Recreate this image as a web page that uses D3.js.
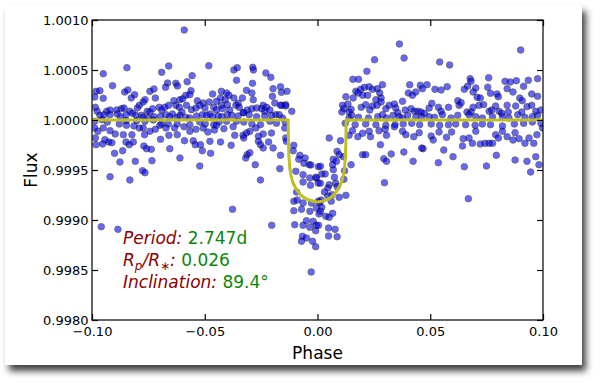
<!DOCTYPE html>
<html>
<head>
<meta charset="utf-8">
<script src="https://cdn.jsdelivr.net/npm/d3@7"></script>
<style>
  body { margin: 0; background: #fff; }
  svg { display: block; font-family: "DejaVu Sans", sans-serif; }
</style>
</head>
<body>
<div id="my_dataviz"></div>
<script>
// tick values
var xTicks = [-0.10, -0.05, 0.00, 0.05, 0.10];
var yTicks = [0.9980, 0.9985, 0.9990, 0.9995, 1.0000, 1.0005, 1.0010];

// transit model
var modelPhase = [-0.1000, -0.0130, -0.0129, -0.0127, -0.0123, -0.0118, -0.0110, -0.0095, -0.0075, -0.0050, -0.0025, 0.0000,
                  0.0025, 0.0050, 0.0072, 0.0092, 0.0107, 0.0115, 0.0120, 0.0124, 0.0126, 0.0127, 0.1000];
var modelFlux  = [1.00000, 1.00000, 0.99980, 0.99965, 0.99952, 0.99945, 0.99938, 0.99931, 0.99925, 0.99921, 0.99919, 0.99918,
                  0.99919, 0.99921, 0.99925, 0.99931, 0.99938, 0.99945, 0.99952, 0.99965, 0.99980, 1.00000, 1.00000];

// observed points: [phase x 1e-3, flux - 1 in ppm]
var obsPoints = [
[-59.1,900],[-95.0,463],[-84.5,523],[-69.1,477],[-66.0,540],[-48.2,543],[-37.1,500],[-35.6,523],[-28.7,527],[-28.4,500],[-22.9,470],[-20.7,427],[-35.9,397],[-28.8,367],[-55.6,443],[-57.8,383],
[-90.9,343],[-66.5,370],[-62.8,367],[-62.1,340],[-67.4,327],[-56.1,293],[-19.7,313],[-16.4,333],[-13.5,287],[-16.0,277],[-20.0,237],[-31.5,297],[-29.1,270],[-42.6,287],[-40.3,270],[-46.5,260],[-43.0,220],[-40.9,203],[-39.3,247],[-98.2,287],[-96.5,293],[-98.8,230],[-95.0,217],[-85.5,280],[-84.1,300],[-81.1,253],[-82.6,220],[-74.3,287],[-72.5,310],[-71.9,220],[-76.5,203],[-77.3,180],[-79.0,147],[-79.9,120],[-63.7,193],[-61.0,203],[-59.8,213],[-58.4,247],[-56.6,253],[-53.3,193],[-50.7,170],[-48.0,180],[-44.8,187],[-42.6,147],[-40.0,153],[-37.1,220],[-35.2,167],[-33.3,220],[-28.5,203],[-24.1,147],[-22.6,127],[-18.9,170],[-15.8,147],[-14.1,153],
[-98.5,127],[-97.7,87],[-93.5,87],[-92.0,100],[-89.1,100],[-87.0,113],[-85.8,120],[-83.2,87],[-82.0,67],[-80.5,47],[-78.0,47],[-75.5,87],[-74.3,80],[-73.1,113],[-70.2,127],[-69.1,100],[-67.7,127],[-66.0,147],[-64.3,60],[-62.8,147],[-61.3,127],[-60.1,80],[-58.1,147],[-55.9,103],[-53.9,120],[-52.2,147],[-49.9,120],[-47.7,60],[-46.0,127],[-44.8,100],[-42.1,113],[-38.9,100],[-36.2,147],[-34.7,127],[-32.7,73],[-31.2,100],[-29.1,113],[-27.0,120],[-24.8,113],[-23.4,87],[-21.1,100],[-18.5,53],[-16.4,147],[-14.1,140],[-11.4,87],
[-96.5,47],[-94.7,53],[-92.0,53],[-88.8,60],[-87.3,33],[-84.9,53],[-77.3,27],[-75.1,20],[-72.5,33],[-69.6,37],[-67.2,53],[-65.5,33],[-62.2,27],[-61.0,47],[-58.4,27],[-56.6,20],[-53.6,40],[-51.0,53],[-49.2,47],[-46.5,33],[-44.0,40],[-42.4,33],[-40.0,53],[-38.0,47],[-35.2,40],[-33.0,73],[-30.3,53],[-27.0,33],[-23.4,40],[-20.4,47],[-17.0,53],[-15.5,20],
[-98.8,-13],[-95.6,3],[-93.2,-20],[-87.9,-40],[-84.9,-7],[-80.2,-7],[-76.5,-13],[-72.8,0],[-69.1,-40],[-66.2,-40],[-62.2,-40],[-56.6,-47],[-52.2,-20],[-49.8,-40],[-46.0,-47],[-43.6,-20],[-40.3,-13],[-35.9,-13],[-32.7,-20],[-29.1,-40],[-25.3,-47],[-21.1,-13],[-18.2,-33],[-14.3,-20],
[-98.8,-80],[-95.0,-80],[-97.4,-113],[-92.0,-107],[-89.7,-140],[-86.1,-147],[-84.7,-53],[-81.4,-60],[-79.0,-80],[-82.3,-147],[-77.3,-80],[-76.7,-147],[-74.3,-113],[-71.9,-93],[-69.9,-53],[-67.2,-80],[-65.9,-153],[-63.4,-80],[-62.2,-147],[-59.2,-67],[-56.6,-113],[-53.9,-93],[-50.7,-80],[-48.6,-120],[-45.7,-100],[-44.8,-53],[-41.5,-87],[-37.4,-67],[-36.7,-153],[-33.0,-153],[-31.5,-130],[-30.0,-113],[-27.3,-80],[-26.2,-163],[-24.1,-140],[-20.4,-130],[-14.5,-80],[-14.1,-180],
[-98.5,-180],[-98.2,-247],[-95.3,-240],[-92.6,-220],[-94.3,-197],[-91.2,-227],[-84.9,-220],[-86.4,-307],[-90.0,-333],[-83.5,-247],[-81.7,-220],[-77.0,-260],[-75.8,-287],[-73.7,-293],[-69.6,-193],[-65.5,-287],[-61.0,-380],[-59.0,-207],[-55.1,-207],[-54.2,-247],[-51.9,-247],[-51.1,-307],[-47.4,-333],[-47.7,-213],[-43.0,-220],[-38.3,-253],[-32.7,-180],[-31.2,-347],[-31.8,-380],[-30.0,-327],[-26.2,-213],[-25.3,-247],[-24.1,-280],[-21.7,-220],[-19.7,-280],[-16.4,-353],[-13.8,-213],[-10.5,-253],[-10.8,-307],
[-87.6,-420],[-80.8,-413],[-73.4,-407],[-52.2,-460],[-27.6,-447],[-16.7,-487],[-7.8,-353],[-5.5,-380],[-3.7,-447],[0.4,-467],
[-92.0,-567],[-83.2,-600],[-77.6,-507],[-76.5,-527],[-25.3,-600],[-37.7,-893],[-95.9,-1067],[-88.5,-1093],[-20.3,-1053],[-2.8,-1520],
[-9.6,-513],[-6.4,-547],[-3.4,-580],[-0.5,-580],[-6.4,-620],[-3.1,-653],[0.3,-630],[-9.3,-720],[-10.5,-813],[-9.0,-800],[-6.4,-830],[-2.7,-830],[0.3,-813],[-10.5,-907],[-7.1,-893],[-3.4,-913],[-0.5,-880],[-4.9,-1007],[-1.9,-1013],[-3.4,-1073],[-0.8,-1107],[-10.1,-1047],[-6.4,-1053],[-0.5,-1053],[-6.7,-1163],[-4.9,-1180],[-7.1,-1213],[-2.2,-1213],[-0.8,-1267],
[-0.7,-573],[1.9,-540],[3.4,-540],[7.0,-497],[7.5,-573],[12.0,-507],[11.7,-593],[1.3,-633],[5.2,-647],[4.6,-680],[8.1,-633],[8.7,-667],[3.1,-720],[4.6,-760],[6.4,-747],[9.6,-773],[12.6,-753],[1.6,-800],[6.1,-813],[1.0,-827],[1.9,-873],[1.3,-913],[0.7,-940],[3.7,-963],[5.2,-973],[6.7,-933],[0.5,-1053],[4.9,-1080],[7.8,-1093],[4.9,-1160],[8.7,-1167],[29.7,-627],[66.9,-787],[94.5,-520],
[-8.3,-393],[-6.0,-433],[-2.9,-450],[7.0,-393],[11.4,-367],
[36.3,760],[38.4,620],[25.3,603],[54.2,580],[58.6,550],[90.1,700],[21.9,487],[15.7,407],[18.2,407],[67.7,413],[75.9,423],[83.2,387],[85.5,380],[88.2,393],[93.5,397],[97.6,413],
[12.6,233],[17.0,287],[19.1,307],[20.8,327],[22.9,333],[24.4,307],[26.6,313],[27.6,270],[28.8,353],[28.2,220],[25.9,203],[22.2,247],[20.0,247],[18.0,270],[15.8,220],[37.7,187],[40.9,353],[40.3,270],[42.1,247],[43.6,280],[45.6,347],[46.5,313],[48.6,353],[52.1,307],[54.8,300],[57.5,333],[65.1,307],[66.6,340],[69.0,280],[70.8,227],[72.2,220],[75.5,327],[76.7,267],[79.6,260],[80.2,233],[84.1,313],[86.7,280],[89.7,220],[90.8,193],[95.0,260],[97.6,237],[91.4,337],[68.1,387],[70.2,320],
[11.1,147],[13.5,160],[11.7,113],[14.9,107],[10.8,80],[14.0,80],[19.4,127],[21.4,153],[24.4,140],[23.2,100],[26.4,147],[28.2,180],[30.3,113],[31.8,147],[34.1,160],[34.7,120],[35.6,73],[38.9,100],[41.5,113],[43.0,87],[44.5,87],[45.9,80],[47.4,67],[49.5,120],[50.7,167],[53.6,127],[54.8,87],[58.1,127],[62.2,193],[62.8,147],[63.7,173],[66.3,80],[68.1,80],[69.0,127],[71.6,147],[73.7,153],[76.1,87],[77.3,100],[79.0,140],[80.5,87],[81.7,67],[84.1,147],[84.6,80],[87.9,140],[90.6,80],[92.9,133],[95.0,147],[96.8,87],[99.1,100],
[14.0,20],[15.2,47],[18.2,27],[22.6,20],[26.7,33],[28.8,53],[30.6,20],[33.5,47],[36.2,33],[37.7,20],[40.0,47],[43.6,27],[46.2,33],[49.5,33],[51.9,27],[55.4,53],[59.2,20],[62.2,47],[67.2,53],[70.2,33],[73.1,20],[77.6,33],[82.0,33],[84.9,20],[88.8,53],[92.0,27],[95.3,33],[97.6,47],
[12.3,-33],[16.7,-47],[21.4,-40],[25.9,-47],[30.3,-53],[34.4,-47],[38.0,-40],[41.8,-33],[45.3,-47],[50.4,-40],[54.2,-53],[58.1,-47],[61.3,-40],[65.7,-47],[69.9,-53],[73.1,-40],[76.7,-47],[82.0,-60],[87.3,-40],[91.4,-33],[95.3,-20],[99.1,-33],
[5.2,-180],[10.2,-207],[8.7,-313],[9.6,-347],[14.0,-153],[15.5,-107],[17.9,-167],[20.0,-133],[22.9,-113],[23.5,-167],[27.3,-107],[27.9,-247],[30.0,-93],[30.6,-153],[34.1,-67],[37.7,-113],[39.2,-147],[42.7,-167],[45.1,-127],[46.8,-287],[50.4,-160],[51.3,-200],[53.9,-120],[56.0,-300],[57.2,-173],[59.5,-120],[60.1,-367],[64.3,-260],[64.6,-187],[67.2,-180],[68.7,-233],[70.2,-113],[72.2,-240],[74.3,-233],[76.1,-233],[77.6,-233],[79.0,-147],[80.2,-180],[82.0,-113],[84.1,-167],[87.6,-127],[86.7,-200],[89.4,-187],[92.0,-233],[93.8,-180],[95.9,-233],[97.3,-147],[99.8,-80],
[1.3,-463],[6.7,-447],[8.4,-413],[14.9,-447],[20.0,-347],[21.4,-347],[29.4,-387],[30.6,-413],[32.7,-340],[38.3,-320],[42.4,-413],[46.2,-280],[53.6,-427],[65.1,-467],[74.9,-460],[79.3,-353],[87.6,-400],[92.9,-413],[96.8,-367],[98.2,-447]
];

// annotation values
var periodText = "2.747d";
var radiusText = "0.026";
var inclText = "89.4°";

// set the dimensions and margins of the graph
var margin = {top: 20, left: 92},
    width = 451,
    height = 300;

var svg = d3.select("#my_dataviz")
  .append("svg")
    .attr("width", 600)
    .attr("height", 385);

var defs = svg.append("defs");
var filt = defs.append("filter")
    .attr("id", "shadow")
    .attr("x", "-5%").attr("y", "-5%")
    .attr("width", "115%").attr("height", "120%");
filt.append("feDropShadow")
    .attr("dx", 4).attr("dy", 6)
    .attr("stdDeviation", 3.5)
    .attr("flood-color", "#000")
    .attr("flood-opacity", 0.75);
defs.append("clipPath").attr("id", "plotclip")
  .append("rect").attr("width", width).attr("height", height);

// card with drop shadow
svg.append("rect")
    .attr("x", 5).attr("y", 5)
    .attr("width", 577).attr("height", 360)
    .attr("fill", "#fff")
    .attr("filter", "url(#shadow)");

var g = svg.append("g")
    .attr("transform", "translate(" + margin.left + "," + margin.top + ")");

var x = d3.scaleLinear().domain([-0.1, 0.1]).range([0, width]);
var y = d3.scaleLinear().domain([0.998, 1.001]).range([height, 0]);

// dots
g.append("g")
    .attr("clip-path", "url(#plotclip)")
  .selectAll("circle")
  .data(obsPoints)
  .enter()
  .append("circle")
    .attr("cx", function(d) { return x(d[0] / 1000); })
    .attr("cy", function(d) { return y(1 + d[1] / 1e6); })
    .attr("r", 3.3)
    .attr("fill", "#0000ff")
    .attr("stroke", "#000")
    .attr("stroke-width", 0.8)
    .attr("opacity", 0.6);

// model line
var line = d3.line()
    .x(function(d, i) { return x(modelPhase[i]); })
    .y(function(d, i) { return y(modelFlux[i]); });
g.append("path")
    .datum(modelPhase)
    .attr("clip-path", "url(#plotclip)")
    .attr("d", line)
    .attr("fill", "none")
    .attr("stroke", "#bfbf1f")
    .attr("stroke-width", 3)
    .attr("stroke-linejoin", "round");

// axes, ticks pointing inward like matplotlib
function styleAxis(sel) {
  sel.select(".domain").remove();
  sel.selectAll(".tick line").attr("stroke", "#000").attr("stroke-width", 1.2);
  sel.selectAll(".tick text")
    .attr("fill", "#000")
    .attr("font-family", "DejaVu Sans, sans-serif")
    .attr("font-size", 13);
}

g.append("g")
    .call(d3.axisLeft(y).tickValues(yTicks).tickSizeInner(-6).tickSizeOuter(0)
      .tickPadding(3.5).tickFormat(d3.format(".4f")))
    .call(styleAxis);
g.append("g")
    .attr("transform", "translate(" + width + ",0)")
    .call(d3.axisRight(y).tickValues(yTicks).tickSizeInner(-6).tickSizeOuter(0).tickFormat(""))
    .call(styleAxis);
g.append("g")
    .attr("transform", "translate(0," + height + ")")
    .call(d3.axisBottom(x).tickValues(xTicks).tickSizeInner(-6).tickSizeOuter(0)
      .tickPadding(6.5).tickFormat(d3.format(".2f")))
    .call(styleAxis);
g.append("g")
    .call(d3.axisTop(x).tickValues(xTicks).tickSizeInner(-6).tickSizeOuter(0).tickFormat(""))
    .call(styleAxis);

// frame
g.append("rect")
    .attr("width", width).attr("height", height)
    .attr("fill", "none")
    .attr("stroke", "#000")
    .attr("stroke-width", 1.2);

// axis labels
svg.append("text")
    .attr("text-anchor", "middle")
    .attr("x", margin.left + width / 2)
    .attr("y", 359)
    .attr("font-size", 17)
    .text("Phase");

svg.append("text")
    .attr("text-anchor", "middle")
    .attr("transform", "translate(37," + (margin.top + height / 2) + ") rotate(-90)")
    .attr("font-size", 17)
    .text("Flux");

// annotations
var red = "#8b0000", green = "#0a860a";
var ann = svg.append("g").attr("font-size", 17);

var t1 = ann.append("text").attr("x", 123).attr("y", 244);
t1.append("tspan").attr("fill", red).attr("font-style", "italic").text("Period:");
t1.append("tspan").attr("fill", green).text(" " + periodText);

var t2 = ann.append("text").attr("x", 123).attr("y", 266);
t2.append("tspan").attr("fill", red).attr("font-style", "italic").text("R");
t2.append("tspan").attr("fill", red).attr("font-style", "italic").attr("font-size", 12).attr("dy", 4).text("p");
t2.append("tspan").attr("fill", red).attr("font-style", "italic").attr("dy", -4).text("/R");
t2.append("tspan").attr("fill", red).attr("font-size", 12).attr("dy", 4).text("\u2217");
t2.append("tspan").attr("fill", red).attr("font-style", "italic").attr("dy", -4).text(":");
t2.append("tspan").attr("fill", green).text(" " + radiusText);

var t3 = ann.append("text").attr("x", 123).attr("y", 288);
t3.append("tspan").attr("fill", red).attr("font-style", "italic").text("Inclination:");
t3.append("tspan").attr("fill", green).text(" " + inclText);
</script>
</body>
</html>
